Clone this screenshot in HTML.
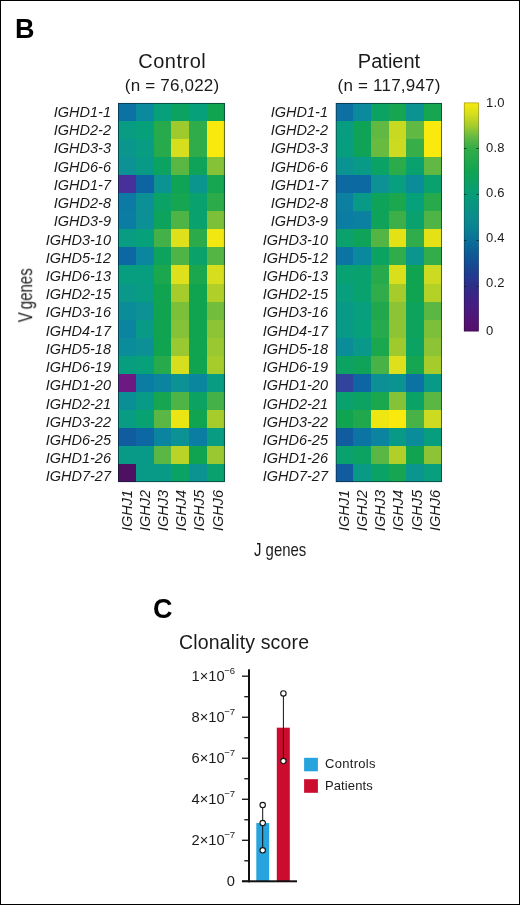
<!DOCTYPE html>
<html><head><meta charset="utf-8">
<style>
html,body{margin:0;padding:0;background:#fff;}
body{width:520px;height:905px;position:relative;overflow:hidden;font-family:"Liberation Sans",sans-serif;color:#1a1a1a;}
.abs{position:absolute;}
.rl,.title,.sub,.cbl,.yl,.lg,.pl,.gt{will-change:transform;}
#frame{position:absolute;left:0;top:0;width:518px;height:903px;border:1px solid #000;}
.pl{position:absolute;font-weight:bold;font-size:27px;line-height:26px;color:#000;}
.title{position:absolute;font-size:20px;line-height:24px;text-align:center;width:160px;white-space:nowrap;letter-spacing:0.5px;text-indent:0.5px;}
.sub{position:absolute;font-size:17px;line-height:20px;text-align:center;width:160px;white-space:nowrap;letter-spacing:0.2px;text-indent:0.2px;}
.rl{position:absolute;font-style:italic;font-size:14.5px;line-height:18px;height:18px;text-align:right;letter-spacing:0;white-space:nowrap;}
.cl{position:absolute;font-style:italic;font-size:14.5px;line-height:18px;height:18px;letter-spacing:0;white-space:nowrap;transform-origin:0 0;transform:rotate(-90deg) translate(0,-9px);}
.cbl{position:absolute;left:486px;font-size:13px;line-height:16px;white-space:nowrap;letter-spacing:0.2px;}
.cond{position:absolute;font-size:19px;line-height:22px;white-space:nowrap;}
.yl{position:absolute;left:140px;width:95px;text-align:right;font-size:14.7px;line-height:18px;white-space:nowrap;}
.sup{font-size:9.5px;position:relative;top:-7.2px;margin-left:-0.5px;letter-spacing:0;}
.lg{position:absolute;left:324.7px;font-size:13px;line-height:16px;letter-spacing:0.3px;white-space:nowrap;}
</style></head><body>
<div id="frame"></div>
<div class="pl" style="left:14.7px;top:15.5px">B</div>
<div class="pl" style="left:153.3px;top:596.4px">C</div>

<div class="title" style="left:91.5px;top:49.4px">Control</div>
<div class="sub" style="left:91.5px;top:76.3px">(n = 76,022)</div>
<div class="title" style="left:308.7px;top:49.4px;letter-spacing:0;text-indent:0">Patient</div>
<div class="sub" style="left:308.7px;top:76.3px">(n = 117,947)</div>

<svg class="abs" style="left:0;top:0" width="520" height="905" shape-rendering="crispEdges">
<defs><linearGradient id="cb" x1="0" y1="0" x2="0" y2="1">
<stop offset="0.0%" stop-color="#f9e90c"/>
<stop offset="5.0%" stop-color="#d6de1e"/>
<stop offset="10.0%" stop-color="#a6cc2c"/>
<stop offset="15.0%" stop-color="#64b942"/>
<stop offset="20.0%" stop-color="#33ad49"/>
<stop offset="30.0%" stop-color="#10a451"/>
<stop offset="40.0%" stop-color="#069d77"/>
<stop offset="50.0%" stop-color="#0b8b8d"/>
<stop offset="55.0%" stop-color="#098292"/>
<stop offset="60.0%" stop-color="#0b7198"/>
<stop offset="65.0%" stop-color="#0c5e96"/>
<stop offset="70.0%" stop-color="#144d93"/>
<stop offset="75.0%" stop-color="#203c8e"/>
<stop offset="80.0%" stop-color="#2e2e89"/>
<stop offset="85.0%" stop-color="#3d2385"/>
<stop offset="90.0%" stop-color="#491b7f"/>
<stop offset="95.0%" stop-color="#521476"/>
<stop offset="100.0%" stop-color="#53106c"/>
</linearGradient></defs>
<rect x="118.30" y="103.00" width="18.02" height="18.35" fill="#0c72a3"/>
<rect x="136.02" y="103.00" width="18.02" height="18.35" fill="#0a8a9c"/>
<rect x="153.73" y="103.00" width="18.02" height="18.35" fill="#06a07a"/>
<rect x="171.45" y="103.00" width="18.02" height="18.35" fill="#0ca261"/>
<rect x="189.17" y="103.00" width="18.02" height="18.35" fill="#06a07a"/>
<rect x="206.88" y="103.00" width="18.02" height="18.35" fill="#10a451"/>
<rect x="118.30" y="121.05" width="18.02" height="18.35" fill="#089c82"/>
<rect x="136.02" y="121.05" width="18.02" height="18.35" fill="#06a07a"/>
<rect x="153.73" y="121.05" width="18.02" height="18.35" fill="#26aa4c"/>
<rect x="171.45" y="121.05" width="18.02" height="18.35" fill="#9fca2e"/>
<rect x="189.17" y="121.05" width="18.02" height="18.35" fill="#30ac4a"/>
<rect x="206.88" y="121.05" width="18.02" height="18.35" fill="#f9e90c"/>
<rect x="118.30" y="139.10" width="18.02" height="18.35" fill="#0a968c"/>
<rect x="136.02" y="139.10" width="18.02" height="18.35" fill="#089c82"/>
<rect x="153.73" y="139.10" width="18.02" height="18.35" fill="#26aa4c"/>
<rect x="171.45" y="139.10" width="18.02" height="18.35" fill="#d6de1e"/>
<rect x="189.17" y="139.10" width="18.02" height="18.35" fill="#30ac4a"/>
<rect x="206.88" y="139.10" width="18.02" height="18.35" fill="#f9e90c"/>
<rect x="118.30" y="157.15" width="18.02" height="18.35" fill="#0c9294"/>
<rect x="136.02" y="157.15" width="18.02" height="18.35" fill="#099987"/>
<rect x="153.73" y="157.15" width="18.02" height="18.35" fill="#0ca261"/>
<rect x="171.45" y="157.15" width="18.02" height="18.35" fill="#5ab743"/>
<rect x="189.17" y="157.15" width="18.02" height="18.35" fill="#0ea359"/>
<rect x="206.88" y="157.15" width="18.02" height="18.35" fill="#85c237"/>
<rect x="118.30" y="175.20" width="18.02" height="18.35" fill="#47309a"/>
<rect x="136.02" y="175.20" width="18.02" height="18.35" fill="#0e63a1"/>
<rect x="153.73" y="175.20" width="18.02" height="18.35" fill="#0b9391"/>
<rect x="171.45" y="175.20" width="18.02" height="18.35" fill="#0fa455"/>
<rect x="189.17" y="175.20" width="18.02" height="18.35" fill="#0b958f"/>
<rect x="206.88" y="175.20" width="18.02" height="18.35" fill="#16a550"/>
<rect x="118.30" y="193.25" width="18.02" height="18.35" fill="#0c7aa4"/>
<rect x="136.02" y="193.25" width="18.02" height="18.35" fill="#0c9096"/>
<rect x="153.73" y="193.25" width="18.02" height="18.35" fill="#0ba265"/>
<rect x="171.45" y="193.25" width="18.02" height="18.35" fill="#16a550"/>
<rect x="189.17" y="193.25" width="18.02" height="18.35" fill="#09a16e"/>
<rect x="206.88" y="193.25" width="18.02" height="18.35" fill="#2cab4b"/>
<rect x="118.30" y="211.30" width="18.02" height="18.35" fill="#0c7da2"/>
<rect x="136.02" y="211.30" width="18.02" height="18.35" fill="#0c9096"/>
<rect x="153.73" y="211.30" width="18.02" height="18.35" fill="#0da35d"/>
<rect x="171.45" y="211.30" width="18.02" height="18.35" fill="#4eb445"/>
<rect x="189.17" y="211.30" width="18.02" height="18.35" fill="#09a16e"/>
<rect x="206.88" y="211.30" width="18.02" height="18.35" fill="#7cc03a"/>
<rect x="118.30" y="229.35" width="18.02" height="18.35" fill="#089c82"/>
<rect x="136.02" y="229.35" width="18.02" height="18.35" fill="#06a07a"/>
<rect x="153.73" y="229.35" width="18.02" height="18.35" fill="#43b147"/>
<rect x="171.45" y="229.35" width="18.02" height="18.35" fill="#dde01a"/>
<rect x="189.17" y="229.35" width="18.02" height="18.35" fill="#2cab4b"/>
<rect x="206.88" y="229.35" width="18.02" height="18.35" fill="#f2e710"/>
<rect x="118.30" y="247.40" width="18.02" height="18.35" fill="#0d67a2"/>
<rect x="136.02" y="247.40" width="18.02" height="18.35" fill="#0a879e"/>
<rect x="153.73" y="247.40" width="18.02" height="18.35" fill="#0da35d"/>
<rect x="171.45" y="247.40" width="18.02" height="18.35" fill="#4eb445"/>
<rect x="189.17" y="247.40" width="18.02" height="18.35" fill="#0aa26a"/>
<rect x="206.88" y="247.40" width="18.02" height="18.35" fill="#54b544"/>
<rect x="118.30" y="265.45" width="18.02" height="18.35" fill="#079d7f"/>
<rect x="136.02" y="265.45" width="18.02" height="18.35" fill="#079d7f"/>
<rect x="153.73" y="265.45" width="18.02" height="18.35" fill="#1ba74e"/>
<rect x="171.45" y="265.45" width="18.02" height="18.35" fill="#dde01a"/>
<rect x="189.17" y="265.45" width="18.02" height="18.35" fill="#1ba74e"/>
<rect x="206.88" y="265.45" width="18.02" height="18.35" fill="#d6de1e"/>
<rect x="118.30" y="283.50" width="18.02" height="18.35" fill="#0a988a"/>
<rect x="136.02" y="283.50" width="18.02" height="18.35" fill="#089c82"/>
<rect x="153.73" y="283.50" width="18.02" height="18.35" fill="#10a451"/>
<rect x="171.45" y="283.50" width="18.02" height="18.35" fill="#a6cc2c"/>
<rect x="189.17" y="283.50" width="18.02" height="18.35" fill="#10a451"/>
<rect x="206.88" y="283.50" width="18.02" height="18.35" fill="#b0d029"/>
<rect x="118.30" y="301.55" width="18.02" height="18.35" fill="#0b8d99"/>
<rect x="136.02" y="301.55" width="18.02" height="18.35" fill="#0c9294"/>
<rect x="153.73" y="301.55" width="18.02" height="18.35" fill="#10a451"/>
<rect x="171.45" y="301.55" width="18.02" height="18.35" fill="#7cc03a"/>
<rect x="189.17" y="301.55" width="18.02" height="18.35" fill="#10a451"/>
<rect x="206.88" y="301.55" width="18.02" height="18.35" fill="#73bd3d"/>
<rect x="118.30" y="319.60" width="18.02" height="18.35" fill="#0b849f"/>
<rect x="136.02" y="319.60" width="18.02" height="18.35" fill="#099987"/>
<rect x="153.73" y="319.60" width="18.02" height="18.35" fill="#10a451"/>
<rect x="171.45" y="319.60" width="18.02" height="18.35" fill="#85c237"/>
<rect x="189.17" y="319.60" width="18.02" height="18.35" fill="#10a451"/>
<rect x="206.88" y="319.60" width="18.02" height="18.35" fill="#8cc435"/>
<rect x="118.30" y="337.65" width="18.02" height="18.35" fill="#0a8c9a"/>
<rect x="136.02" y="337.65" width="18.02" height="18.35" fill="#0c9096"/>
<rect x="153.73" y="337.65" width="18.02" height="18.35" fill="#10a451"/>
<rect x="171.45" y="337.65" width="18.02" height="18.35" fill="#99c830"/>
<rect x="189.17" y="337.65" width="18.02" height="18.35" fill="#10a451"/>
<rect x="206.88" y="337.65" width="18.02" height="18.35" fill="#99c830"/>
<rect x="118.30" y="355.70" width="18.02" height="18.35" fill="#079d7f"/>
<rect x="136.02" y="355.70" width="18.02" height="18.35" fill="#06a07a"/>
<rect x="153.73" y="355.70" width="18.02" height="18.35" fill="#26aa4c"/>
<rect x="171.45" y="355.70" width="18.02" height="18.35" fill="#d6de1e"/>
<rect x="189.17" y="355.70" width="18.02" height="18.35" fill="#10a451"/>
<rect x="206.88" y="355.70" width="18.02" height="18.35" fill="#a6cc2c"/>
<rect x="118.30" y="373.75" width="18.02" height="18.35" fill="#6c1a81"/>
<rect x="136.02" y="373.75" width="18.02" height="18.35" fill="#0c7da2"/>
<rect x="153.73" y="373.75" width="18.02" height="18.35" fill="#0b849f"/>
<rect x="171.45" y="373.75" width="18.02" height="18.35" fill="#0c9294"/>
<rect x="189.17" y="373.75" width="18.02" height="18.35" fill="#0a879e"/>
<rect x="206.88" y="373.75" width="18.02" height="18.35" fill="#089c82"/>
<rect x="118.30" y="391.80" width="18.02" height="18.35" fill="#0b8f97"/>
<rect x="136.02" y="391.80" width="18.02" height="18.35" fill="#099987"/>
<rect x="153.73" y="391.80" width="18.02" height="18.35" fill="#16a550"/>
<rect x="171.45" y="391.80" width="18.02" height="18.35" fill="#4eb445"/>
<rect x="189.17" y="391.80" width="18.02" height="18.35" fill="#0ca261"/>
<rect x="206.88" y="391.80" width="18.02" height="18.35" fill="#43b147"/>
<rect x="118.30" y="409.85" width="18.02" height="18.35" fill="#089c82"/>
<rect x="136.02" y="409.85" width="18.02" height="18.35" fill="#08a172"/>
<rect x="153.73" y="409.85" width="18.02" height="18.35" fill="#5ab743"/>
<rect x="171.45" y="409.85" width="18.02" height="18.35" fill="#ebe513"/>
<rect x="189.17" y="409.85" width="18.02" height="18.35" fill="#10a451"/>
<rect x="206.88" y="409.85" width="18.02" height="18.35" fill="#a6cc2c"/>
<rect x="118.30" y="427.90" width="18.02" height="18.35" fill="#115c9f"/>
<rect x="136.02" y="427.90" width="18.02" height="18.35" fill="#0d67a2"/>
<rect x="153.73" y="427.90" width="18.02" height="18.35" fill="#0b849f"/>
<rect x="171.45" y="427.90" width="18.02" height="18.35" fill="#0c9294"/>
<rect x="189.17" y="427.90" width="18.02" height="18.35" fill="#0c7da2"/>
<rect x="206.88" y="427.90" width="18.02" height="18.35" fill="#089c82"/>
<rect x="118.30" y="445.95" width="18.02" height="18.35" fill="#099987"/>
<rect x="136.02" y="445.95" width="18.02" height="18.35" fill="#099987"/>
<rect x="153.73" y="445.95" width="18.02" height="18.35" fill="#5ab743"/>
<rect x="171.45" y="445.95" width="18.02" height="18.35" fill="#b9d326"/>
<rect x="189.17" y="445.95" width="18.02" height="18.35" fill="#10a451"/>
<rect x="206.88" y="445.95" width="18.02" height="18.35" fill="#99c830"/>
<rect x="118.30" y="464.00" width="18.02" height="18.35" fill="#4d1063"/>
<rect x="136.02" y="464.00" width="18.02" height="18.35" fill="#099987"/>
<rect x="153.73" y="464.00" width="18.02" height="18.35" fill="#089a84"/>
<rect x="171.45" y="464.00" width="18.02" height="18.35" fill="#0ba265"/>
<rect x="189.17" y="464.00" width="18.02" height="18.35" fill="#0b9391"/>
<rect x="206.88" y="464.00" width="18.02" height="18.35" fill="#09a16e"/>
<rect x="118.60" y="103.30" width="105.70" height="378.45" fill="none" stroke="#06202c" stroke-opacity="0.9" stroke-width="0.7" shape-rendering="geometricPrecision"/>
<rect x="335.80" y="103.00" width="17.95" height="18.35" fill="#0c70a3"/>
<rect x="353.45" y="103.00" width="17.95" height="18.35" fill="#0a8a9c"/>
<rect x="371.10" y="103.00" width="17.95" height="18.35" fill="#0ca261"/>
<rect x="388.75" y="103.00" width="17.95" height="18.35" fill="#16a550"/>
<rect x="406.40" y="103.00" width="17.95" height="18.35" fill="#0b9391"/>
<rect x="424.05" y="103.00" width="17.95" height="18.35" fill="#16a550"/>
<rect x="335.80" y="121.05" width="17.95" height="18.35" fill="#089c80"/>
<rect x="353.45" y="121.05" width="17.95" height="18.35" fill="#0fa455"/>
<rect x="371.10" y="121.05" width="17.95" height="18.35" fill="#61b842"/>
<rect x="388.75" y="121.05" width="17.95" height="18.35" fill="#c8d922"/>
<rect x="406.40" y="121.05" width="17.95" height="18.35" fill="#61b842"/>
<rect x="424.05" y="121.05" width="17.95" height="18.35" fill="#f9e90c"/>
<rect x="335.80" y="139.10" width="17.95" height="18.35" fill="#079d7f"/>
<rect x="353.45" y="139.10" width="17.95" height="18.35" fill="#0fa357"/>
<rect x="371.10" y="139.10" width="17.95" height="18.35" fill="#69bb40"/>
<rect x="388.75" y="139.10" width="17.95" height="18.35" fill="#ccda21"/>
<rect x="406.40" y="139.10" width="17.95" height="18.35" fill="#37ae48"/>
<rect x="424.05" y="139.10" width="17.95" height="18.35" fill="#f9e90c"/>
<rect x="335.80" y="157.15" width="17.95" height="18.35" fill="#0b9391"/>
<rect x="353.45" y="157.15" width="17.95" height="18.35" fill="#099987"/>
<rect x="371.10" y="157.15" width="17.95" height="18.35" fill="#0ba265"/>
<rect x="388.75" y="157.15" width="17.95" height="18.35" fill="#2cab4b"/>
<rect x="406.40" y="157.15" width="17.95" height="18.35" fill="#09a16e"/>
<rect x="424.05" y="157.15" width="17.95" height="18.35" fill="#61b842"/>
<rect x="335.80" y="175.20" width="17.95" height="18.35" fill="#0d69a2"/>
<rect x="353.45" y="175.20" width="17.95" height="18.35" fill="#0d69a2"/>
<rect x="371.10" y="175.20" width="17.95" height="18.35" fill="#0c9294"/>
<rect x="388.75" y="175.20" width="17.95" height="18.35" fill="#079f7d"/>
<rect x="406.40" y="175.20" width="17.95" height="18.35" fill="#0b8d99"/>
<rect x="424.05" y="175.20" width="17.95" height="18.35" fill="#09a16e"/>
<rect x="335.80" y="193.25" width="17.95" height="18.35" fill="#0b80a1"/>
<rect x="353.45" y="193.25" width="17.95" height="18.35" fill="#099987"/>
<rect x="371.10" y="193.25" width="17.95" height="18.35" fill="#0ea359"/>
<rect x="388.75" y="193.25" width="17.95" height="18.35" fill="#1ba74e"/>
<rect x="406.40" y="193.25" width="17.95" height="18.35" fill="#06a07a"/>
<rect x="424.05" y="193.25" width="17.95" height="18.35" fill="#26aa4c"/>
<rect x="335.80" y="211.30" width="17.95" height="18.35" fill="#0c7da2"/>
<rect x="353.45" y="211.30" width="17.95" height="18.35" fill="#0b80a1"/>
<rect x="371.10" y="211.30" width="17.95" height="18.35" fill="#0ea359"/>
<rect x="388.75" y="211.30" width="17.95" height="18.35" fill="#3daf48"/>
<rect x="406.40" y="211.30" width="17.95" height="18.35" fill="#09a16e"/>
<rect x="424.05" y="211.30" width="17.95" height="18.35" fill="#4eb445"/>
<rect x="335.80" y="229.35" width="17.95" height="18.35" fill="#0aa16c"/>
<rect x="353.45" y="229.35" width="17.95" height="18.35" fill="#0ea359"/>
<rect x="371.10" y="229.35" width="17.95" height="18.35" fill="#54b544"/>
<rect x="388.75" y="229.35" width="17.95" height="18.35" fill="#e4e217"/>
<rect x="406.40" y="229.35" width="17.95" height="18.35" fill="#30ac4a"/>
<rect x="424.05" y="229.35" width="17.95" height="18.35" fill="#e4e217"/>
<rect x="335.80" y="247.40" width="17.95" height="18.35" fill="#0c74a3"/>
<rect x="353.45" y="247.40" width="17.95" height="18.35" fill="#0a889d"/>
<rect x="371.10" y="247.40" width="17.95" height="18.35" fill="#0ca261"/>
<rect x="388.75" y="247.40" width="17.95" height="18.35" fill="#30ac4a"/>
<rect x="406.40" y="247.40" width="17.95" height="18.35" fill="#0a968e"/>
<rect x="424.05" y="247.40" width="17.95" height="18.35" fill="#32ad49"/>
<rect x="335.80" y="265.45" width="17.95" height="18.35" fill="#08a172"/>
<rect x="353.45" y="265.45" width="17.95" height="18.35" fill="#09a16e"/>
<rect x="371.10" y="265.45" width="17.95" height="18.35" fill="#26aa4c"/>
<rect x="388.75" y="265.45" width="17.95" height="18.35" fill="#dadf1c"/>
<rect x="406.40" y="265.45" width="17.95" height="18.35" fill="#10a451"/>
<rect x="424.05" y="265.45" width="17.95" height="18.35" fill="#ccda21"/>
<rect x="335.80" y="283.50" width="17.95" height="18.35" fill="#079f7d"/>
<rect x="353.45" y="283.50" width="17.95" height="18.35" fill="#09a16e"/>
<rect x="371.10" y="283.50" width="17.95" height="18.35" fill="#30ac4a"/>
<rect x="388.75" y="283.50" width="17.95" height="18.35" fill="#a6cc2c"/>
<rect x="406.40" y="283.50" width="17.95" height="18.35" fill="#10a451"/>
<rect x="424.05" y="283.50" width="17.95" height="18.35" fill="#b4d128"/>
<rect x="335.80" y="301.55" width="17.95" height="18.35" fill="#099987"/>
<rect x="353.45" y="301.55" width="17.95" height="18.35" fill="#079f7d"/>
<rect x="371.10" y="301.55" width="17.95" height="18.35" fill="#21a84d"/>
<rect x="388.75" y="301.55" width="17.95" height="18.35" fill="#8cc435"/>
<rect x="406.40" y="301.55" width="17.95" height="18.35" fill="#0da35d"/>
<rect x="424.05" y="301.55" width="17.95" height="18.35" fill="#5ab743"/>
<rect x="335.80" y="319.60" width="17.95" height="18.35" fill="#099987"/>
<rect x="353.45" y="319.60" width="17.95" height="18.35" fill="#06a07a"/>
<rect x="371.10" y="319.60" width="17.95" height="18.35" fill="#26aa4c"/>
<rect x="388.75" y="319.60" width="17.95" height="18.35" fill="#8cc435"/>
<rect x="406.40" y="319.60" width="17.95" height="18.35" fill="#0da35d"/>
<rect x="424.05" y="319.60" width="17.95" height="18.35" fill="#7cc03a"/>
<rect x="335.80" y="337.65" width="17.95" height="18.35" fill="#0b8d99"/>
<rect x="353.45" y="337.65" width="17.95" height="18.35" fill="#0a988a"/>
<rect x="371.10" y="337.65" width="17.95" height="18.35" fill="#1ba74e"/>
<rect x="388.75" y="337.65" width="17.95" height="18.35" fill="#9fca2e"/>
<rect x="406.40" y="337.65" width="17.95" height="18.35" fill="#0ca261"/>
<rect x="424.05" y="337.65" width="17.95" height="18.35" fill="#8cc435"/>
<rect x="335.80" y="355.70" width="17.95" height="18.35" fill="#0ca261"/>
<rect x="353.45" y="355.70" width="17.95" height="18.35" fill="#0ea359"/>
<rect x="371.10" y="355.70" width="17.95" height="18.35" fill="#49b246"/>
<rect x="388.75" y="355.70" width="17.95" height="18.35" fill="#dde01a"/>
<rect x="406.40" y="355.70" width="17.95" height="18.35" fill="#16a550"/>
<rect x="424.05" y="355.70" width="17.95" height="18.35" fill="#a6cc2c"/>
<rect x="335.80" y="373.75" width="17.95" height="18.35" fill="#31439a"/>
<rect x="353.45" y="373.75" width="17.95" height="18.35" fill="#0d65a2"/>
<rect x="371.10" y="373.75" width="17.95" height="18.35" fill="#0c9096"/>
<rect x="388.75" y="373.75" width="17.95" height="18.35" fill="#0b9391"/>
<rect x="406.40" y="373.75" width="17.95" height="18.35" fill="#0c72a3"/>
<rect x="424.05" y="373.75" width="17.95" height="18.35" fill="#099987"/>
<rect x="335.80" y="391.80" width="17.95" height="18.35" fill="#09a16e"/>
<rect x="353.45" y="391.80" width="17.95" height="18.35" fill="#0ca261"/>
<rect x="371.10" y="391.80" width="17.95" height="18.35" fill="#1ba74e"/>
<rect x="388.75" y="391.80" width="17.95" height="18.35" fill="#85c237"/>
<rect x="406.40" y="391.80" width="17.95" height="18.35" fill="#0ba265"/>
<rect x="424.05" y="391.80" width="17.95" height="18.35" fill="#5ab743"/>
<rect x="335.80" y="409.85" width="17.95" height="18.35" fill="#10a451"/>
<rect x="353.45" y="409.85" width="17.95" height="18.35" fill="#21a84d"/>
<rect x="371.10" y="409.85" width="17.95" height="18.35" fill="#eee611"/>
<rect x="388.75" y="409.85" width="17.95" height="18.35" fill="#f9e90c"/>
<rect x="406.40" y="409.85" width="17.95" height="18.35" fill="#49b246"/>
<rect x="424.05" y="409.85" width="17.95" height="18.35" fill="#ccda21"/>
<rect x="335.80" y="427.90" width="17.95" height="18.35" fill="#115c9f"/>
<rect x="353.45" y="427.90" width="17.95" height="18.35" fill="#0c74a3"/>
<rect x="371.10" y="427.90" width="17.95" height="18.35" fill="#0b849f"/>
<rect x="388.75" y="427.90" width="17.95" height="18.35" fill="#099987"/>
<rect x="406.40" y="427.90" width="17.95" height="18.35" fill="#0a8c9a"/>
<rect x="424.05" y="427.90" width="17.95" height="18.35" fill="#079d7f"/>
<rect x="335.80" y="445.95" width="17.95" height="18.35" fill="#09a16e"/>
<rect x="353.45" y="445.95" width="17.95" height="18.35" fill="#0ca261"/>
<rect x="371.10" y="445.95" width="17.95" height="18.35" fill="#5ab743"/>
<rect x="388.75" y="445.95" width="17.95" height="18.35" fill="#b0d029"/>
<rect x="406.40" y="445.95" width="17.95" height="18.35" fill="#10a451"/>
<rect x="424.05" y="445.95" width="17.95" height="18.35" fill="#8cc435"/>
<rect x="335.80" y="464.00" width="17.95" height="18.35" fill="#115c9f"/>
<rect x="353.45" y="464.00" width="17.95" height="18.35" fill="#089a84"/>
<rect x="371.10" y="464.00" width="17.95" height="18.35" fill="#0ba265"/>
<rect x="388.75" y="464.00" width="17.95" height="18.35" fill="#16a550"/>
<rect x="406.40" y="464.00" width="17.95" height="18.35" fill="#0b958f"/>
<rect x="424.05" y="464.00" width="17.95" height="18.35" fill="#079f7d"/>
<rect x="336.10" y="103.30" width="105.30" height="378.45" fill="none" stroke="#06202c" stroke-opacity="0.9" stroke-width="0.7" shape-rendering="geometricPrecision"/>
<rect x="463.9" y="102.6" width="14.9" height="228.8" fill="url(#cb)" shape-rendering="geometricPrecision"/>
<rect x="464.2" y="102.9" width="14.3" height="228.2" fill="none" stroke="#000" stroke-opacity="0.4" stroke-width="0.6" shape-rendering="geometricPrecision"/>
</svg>
<div class="cbl" style="top:95.3px">1.0</div>
<div class="cbl" style="top:139.8px">0.8</div>
<svg class="abs" style="left:464px;top:148.2px" width="15" height="2"><rect x="0.3" y="0" width="2" height="1" fill="#0a2418" fill-opacity="0.85"/><rect x="12.5" y="0" width="2" height="1" fill="#0a2418" fill-opacity="0.85"/></svg>
<div class="cbl" style="top:184.7px">0.6</div>
<svg class="abs" style="left:464px;top:194.0px" width="15" height="2"><rect x="0.3" y="0" width="2" height="1" fill="#0a2418" fill-opacity="0.85"/><rect x="12.5" y="0" width="2" height="1" fill="#0a2418" fill-opacity="0.85"/></svg>
<div class="cbl" style="top:229.8px">0.4</div>
<svg class="abs" style="left:464px;top:239.8px" width="15" height="2"><rect x="0.3" y="0" width="2" height="1" fill="#0a2418" fill-opacity="0.85"/><rect x="12.5" y="0" width="2" height="1" fill="#0a2418" fill-opacity="0.85"/></svg>
<div class="cbl" style="top:275.4px">0.2</div>
<svg class="abs" style="left:464px;top:285.6px" width="15" height="2"><rect x="0.3" y="0" width="2" height="1" fill="#0a2418" fill-opacity="0.85"/><rect x="12.5" y="0" width="2" height="1" fill="#0a2418" fill-opacity="0.85"/></svg>
<div class="cbl" style="top:322.5px">0</div>

<div class="rl" style="left:21.0px;top:103.00px;width:90.0px">IGHD1-1</div>
<div class="rl" style="left:21.0px;top:121.22px;width:90.0px">IGHD2-2</div>
<div class="rl" style="left:21.0px;top:139.44px;width:90.0px">IGHD3-3</div>
<div class="rl" style="left:21.0px;top:157.66px;width:90.0px">IGHD6-6</div>
<div class="rl" style="left:21.0px;top:175.88px;width:90.0px">IGHD1-7</div>
<div class="rl" style="left:21.0px;top:194.10px;width:90.0px">IGHD2-8</div>
<div class="rl" style="left:21.0px;top:212.32px;width:90.0px">IGHD3-9</div>
<div class="rl" style="left:21.0px;top:230.54px;width:90.0px">IGHD3-10</div>
<div class="rl" style="left:21.0px;top:248.76px;width:90.0px">IGHD5-12</div>
<div class="rl" style="left:21.0px;top:266.98px;width:90.0px">IGHD6-13</div>
<div class="rl" style="left:21.0px;top:285.20px;width:90.0px">IGHD2-15</div>
<div class="rl" style="left:21.0px;top:303.42px;width:90.0px">IGHD3-16</div>
<div class="rl" style="left:21.0px;top:321.64px;width:90.0px">IGHD4-17</div>
<div class="rl" style="left:21.0px;top:339.86px;width:90.0px">IGHD5-18</div>
<div class="rl" style="left:21.0px;top:358.08px;width:90.0px">IGHD6-19</div>
<div class="rl" style="left:21.0px;top:376.30px;width:90.0px">IGHD1-20</div>
<div class="rl" style="left:21.0px;top:394.52px;width:90.0px">IGHD2-21</div>
<div class="rl" style="left:21.0px;top:412.74px;width:90.0px">IGHD3-22</div>
<div class="rl" style="left:21.0px;top:430.96px;width:90.0px">IGHD6-25</div>
<div class="rl" style="left:21.0px;top:449.18px;width:90.0px">IGHD1-26</div>
<div class="rl" style="left:21.0px;top:467.40px;width:90.0px">IGHD7-27</div>
<div class="rl" style="left:238.3px;top:103.00px;width:90.0px">IGHD1-1</div>
<div class="rl" style="left:238.3px;top:121.22px;width:90.0px">IGHD2-2</div>
<div class="rl" style="left:238.3px;top:139.44px;width:90.0px">IGHD3-3</div>
<div class="rl" style="left:238.3px;top:157.66px;width:90.0px">IGHD6-6</div>
<div class="rl" style="left:238.3px;top:175.88px;width:90.0px">IGHD1-7</div>
<div class="rl" style="left:238.3px;top:194.10px;width:90.0px">IGHD2-8</div>
<div class="rl" style="left:238.3px;top:212.32px;width:90.0px">IGHD3-9</div>
<div class="rl" style="left:238.3px;top:230.54px;width:90.0px">IGHD3-10</div>
<div class="rl" style="left:238.3px;top:248.76px;width:90.0px">IGHD5-12</div>
<div class="rl" style="left:238.3px;top:266.98px;width:90.0px">IGHD6-13</div>
<div class="rl" style="left:238.3px;top:285.20px;width:90.0px">IGHD2-15</div>
<div class="rl" style="left:238.3px;top:303.42px;width:90.0px">IGHD3-16</div>
<div class="rl" style="left:238.3px;top:321.64px;width:90.0px">IGHD4-17</div>
<div class="rl" style="left:238.3px;top:339.86px;width:90.0px">IGHD5-18</div>
<div class="rl" style="left:238.3px;top:358.08px;width:90.0px">IGHD6-19</div>
<div class="rl" style="left:238.3px;top:376.30px;width:90.0px">IGHD1-20</div>
<div class="rl" style="left:238.3px;top:394.52px;width:90.0px">IGHD2-21</div>
<div class="rl" style="left:238.3px;top:412.74px;width:90.0px">IGHD3-22</div>
<div class="rl" style="left:238.3px;top:430.96px;width:90.0px">IGHD6-25</div>
<div class="rl" style="left:238.3px;top:449.18px;width:90.0px">IGHD1-26</div>
<div class="rl" style="left:238.3px;top:467.40px;width:90.0px">IGHD7-27</div>
<div class="cl" style="left:126.88px;top:531.2px">IGHJ1</div>
<div class="cl" style="left:145.02px;top:531.2px">IGHJ2</div>
<div class="cl" style="left:163.16px;top:531.2px">IGHJ3</div>
<div class="cl" style="left:181.30px;top:531.2px">IGHJ4</div>
<div class="cl" style="left:199.44px;top:531.2px">IGHJ5</div>
<div class="cl" style="left:217.58px;top:531.2px">IGHJ6</div>
<div class="cl" style="left:343.98px;top:531.2px">IGHJ1</div>
<div class="cl" style="left:362.12px;top:531.2px">IGHJ2</div>
<div class="cl" style="left:380.26px;top:531.2px">IGHJ3</div>
<div class="cl" style="left:398.40px;top:531.2px">IGHJ4</div>
<div class="cl" style="left:416.54px;top:531.2px">IGHJ5</div>
<div class="cl" style="left:434.68px;top:531.2px">IGHJ6</div>

<div class="cond" id="vg" style="left:0;top:0;transform-origin:0 0;word-spacing:-1.5px;font-size:19.5px;transform:translate(14.2px,322.3px) rotate(-90deg) scaleX(0.77)">V genes</div>
<div class="cond" id="jg" style="left:253.5px;top:538.5px;transform-origin:0 0;transform:scaleX(0.785)">J genes</div>

<div class="abs gt" style="left:179px;top:630px;font-size:19.5px;letter-spacing:0.15px;line-height:24px;white-space:nowrap">Clonality score</div>

<svg class="abs" style="left:0;top:0" width="520" height="905">
<rect x="256.3" y="823.05" width="12.9" height="58.25" fill="#27a4de"/>
<rect x="276.8" y="727.68" width="13" height="153.62" fill="#cb0c2e"/>
<rect x="248" y="669.3" width="2" height="213" fill="#111"/>
<rect x="242" y="880.3" width="55" height="2" fill="#111"/>
<rect x="242" y="880.65" width="7" height="1.3" fill="#111"/>
<rect x="244.3" y="860.14" width="5" height="1.3" fill="#111"/>
<rect x="242" y="839.63" width="7" height="1.3" fill="#111"/>
<rect x="244.3" y="819.12" width="5" height="1.3" fill="#111"/>
<rect x="242" y="798.61" width="7" height="1.3" fill="#111"/>
<rect x="244.3" y="778.10" width="5" height="1.3" fill="#111"/>
<rect x="242" y="757.59" width="7" height="1.3" fill="#111"/>
<rect x="244.3" y="737.08" width="5" height="1.3" fill="#111"/>
<rect x="242" y="716.57" width="7" height="1.3" fill="#111"/>
<rect x="244.3" y="696.06" width="5" height="1.3" fill="#111"/>
<rect x="242" y="675.55" width="7" height="1.3" fill="#111"/>
<line x1="262.7" y1="805" x2="262.7" y2="850" stroke="#111" stroke-width="1"/>
<line x1="283.4" y1="693.4" x2="283.4" y2="761" stroke="#111" stroke-width="1"/>
<circle cx="262.7" cy="805.1" r="2.7" fill="#fff" stroke="#111" stroke-width="1.1"/>
<circle cx="262.7" cy="823.1" r="2.7" fill="#fff" stroke="#111" stroke-width="1.1"/>
<circle cx="262.7" cy="850.3" r="2.7" fill="#fff" stroke="#111" stroke-width="1.1"/>
<circle cx="283.4" cy="693.4" r="2.7" fill="#fff" stroke="#111" stroke-width="1.1"/>
<circle cx="283.4" cy="761.1" r="2.7" fill="#fff" stroke="#111" stroke-width="1.1"/>
<rect x="304.1" y="757.8" width="13.8" height="13.5" fill="#27a4de"/>
<rect x="304.1" y="779.2" width="13.8" height="13.6" fill="#cb0c2e"/>
</svg>
<div class="yl" style="top:667.2px">1×10<span class="sup">−6</span></div>
<div class="yl" style="top:708.2px">8×10<span class="sup">−7</span></div>
<div class="yl" style="top:749.2px">6×10<span class="sup">−7</span></div>
<div class="yl" style="top:790.3px">4×10<span class="sup">−7</span></div>
<div class="yl" style="top:831.3px">2×10<span class="sup">−7</span></div>
<div class="yl" style="top:871.8px">0</div>
<div class="lg" style="top:756.4px">Controls</div>
<div class="lg" style="top:777.9px;letter-spacing:0.1px">Patients</div>
</body></html>
